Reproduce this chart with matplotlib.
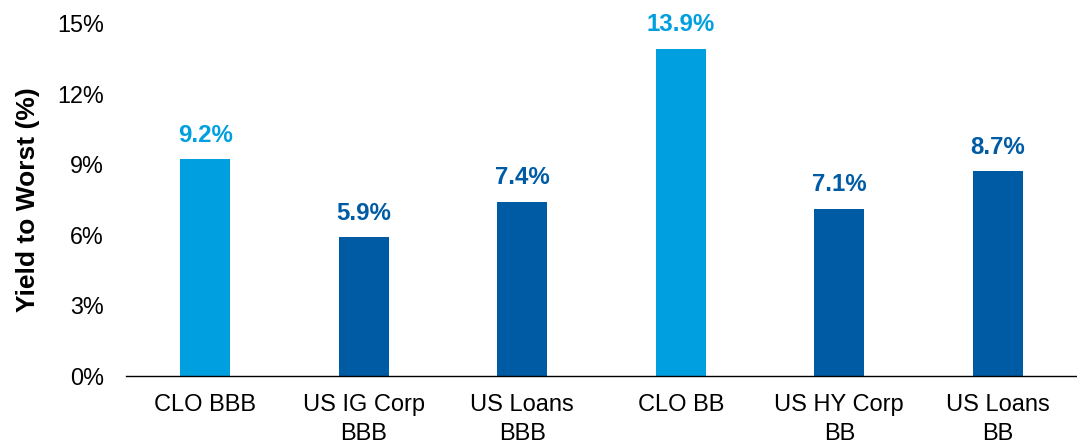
import matplotlib
matplotlib.use("Agg")
import matplotlib.pyplot as plt
from matplotlib.ticker import FuncFormatter

categories = ["CLO BBB", "US IG Corp\nBBB", "US Loans\nBBB", "CLO BB", "US HY Corp\nBB", "US Loans\nBB"]
values = [9.2, 5.9, 7.4, 13.9, 7.1, 8.7]
is_clo = [True, False, False, True, False, False]
yticks = [0, 3, 6, 9, 12, 15]

LIGHT = "#00A0E0"
DARK = "#005BA5"

plt.rcParams['font.family'] = ['Liberation Sans', 'DejaVu Sans']

fig = plt.figure(figsize=(10.77, 4.4), dpi=100)
ax = fig.add_axes([126/1077, 1 - 376/440, 951/1077, (376 - 23)/440])

colors = [LIGHT if c else DARK for c in is_clo]
x = list(range(len(categories)))
bars = ax.bar(x, values, width=0.315, color=colors)

for xi, v, c in zip(x, values, colors):
    ax.annotate(f"{v:.1f}%", (xi, v), xytext=(0, 9), textcoords="offset points",
                ha="center", va="bottom", fontsize=17.3, fontweight="bold", color=c)

ax.set_xlim(-0.5, len(categories) - 0.5)
ax.set_ylim(0, 15)
ax.set_yticks(yticks)
ax.yaxis.set_major_formatter(FuncFormatter(lambda v, p: f"{v:.0f}%"))
ax.set_xticks(x)
ax.set_xticklabels(categories, fontsize=17, linespacing=1.38)
ax.tick_params(axis='y', length=0, pad=16, labelsize=16.8)
ax.tick_params(axis='x', length=0, pad=13)

for s in ["top", "right", "left"]:
    ax.spines[s].set_visible(False)
ax.spines["bottom"].set_color("#000000")
ax.spines["bottom"].set_linewidth(1.0)

ax.set_ylabel("Yield to Worst (%)", fontsize=19, fontweight="bold", labelpad=12)

fig.savefig("out.png", dpi=100)
